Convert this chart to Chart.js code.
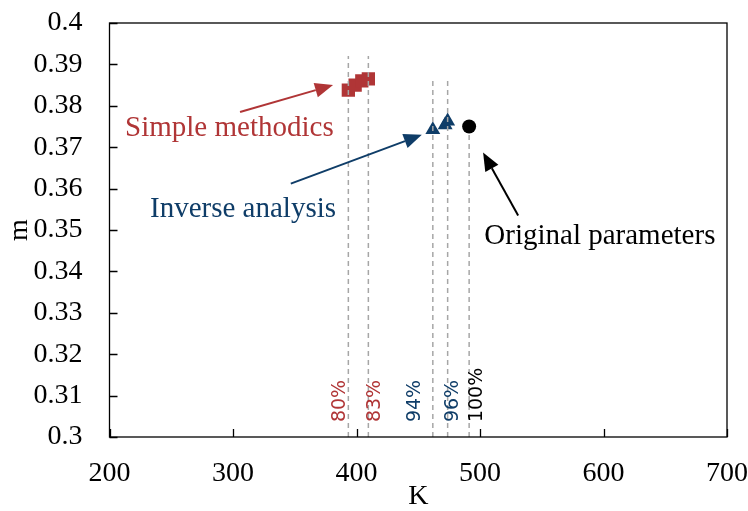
<!DOCTYPE html>
<html>
<head>
<meta charset="utf-8">
<script src="https://cdn.jsdelivr.net/npm/chart.js@4/dist/chart.umd.min.js"></script>
<style>
    html, body { margin: 0; padding: 0; background: #fff; }
    #wrap { width: 748px; height: 511px; }
</style>
</head>
<body>
<div id="wrap"><canvas id="scatter_chart"></canvas></div>
<script>
// values
const simpleK = [393.4, 398.9, 404.3, 409.6];
const simpleM = [0.3838, 0.3850, 0.3860, 0.3865];
const inverseK = [461.8, 471.8, 473.8];
const inverseM = [0.3742, 0.3754, 0.3763];
const originalK = [491.2];
const originalM = [0.375];

// vertical guides and their percentage labels
const guideK = [393.4, 409.6, 461.8, 473.8, 491.2];
const guideTop = [0.392, 0.392, 0.3867, 0.3867, 0.373];
const guideLabels = ['80%', '83%', '94%', '96%', '100%'];
const guideLabelK = [386.8, 415.2, 447.2, 478.4, 497.6];

const xTicks = [200, 300, 400, 500, 600, 700];
const yTicks = [0.3, 0.31, 0.32, 0.33, 0.34, 0.35, 0.36, 0.37, 0.38, 0.39, 0.4];

const red = '#B03536';
const blue = '#0F3D68';
const black = '#000000';
const guideColors = [red, red, blue, blue, black];

// text callouts, in data units (text anchor, arrow tail, arrow tip)
const callouts = [
    { text: 'Simple methodics', color: red, at: [212.6, 0.3728], from: [305.7, 0.3785], to: [381.0, 0.3850] },
    { text: 'Inverse analysis', color: blue, at: [232.8, 0.3532], from: [346.8, 0.3612], to: [452.9, 0.3730] },
    { text: 'Original parameters', color: black, at: [503.5, 0.3467], from: [530.9, 0.3535], to: [502.5, 0.3687] }
];

const toPoints = (xs, ys) => xs.map((x, i) => ({ x: x, y: ys[i] }));

const guideSets = guideK.map((k, i) => ({
    type: 'line',
    data: [{ x: k, y: 0.3 }, { x: k, y: guideTop[i] }],
    borderColor: '#A6A6A6',
    borderWidth: 1.5,
    borderDash: [5, 4],
    pointRadius: 0,
    order: 0
}));

// frame, inward ticks, callouts and rotated percent labels
const decorPlugin = {
    id: 'decor',
    afterDatasetsDraw(chart) {
        const ctx = chart.ctx;
        const area = chart.chartArea;
        const xs = chart.scales.x;
        const ys = chart.scales.y;
        ctx.save();
        ctx.strokeStyle = '#000';
        ctx.lineWidth = 1.3;
        ctx.strokeRect(area.left, area.top, area.right - area.left, area.bottom - area.top);
        ctx.beginPath();
        for (const v of xTicks) {
            const px = Math.round(xs.getPixelForValue(v)) + 0.5;
            ctx.moveTo(px, area.bottom);
            ctx.lineTo(px, area.bottom - 8);
        }
        for (const v of yTicks) {
            const py = Math.round(ys.getPixelForValue(v)) + 0.5;
            ctx.moveTo(area.left, py);
            ctx.lineTo(area.left + 8, py);
        }
        ctx.stroke();

        // percent labels
        ctx.font = '19px "DejaVu Sans"';
        ctx.textAlign = 'left';
        ctx.textBaseline = 'middle';
        guideLabels.forEach((lab, i) => {
            ctx.save();
            ctx.translate(xs.getPixelForValue(guideLabelK[i]), ys.getPixelForValue(0.3036));
            ctx.rotate(-Math.PI / 2);
            ctx.fillStyle = guideColors[i];
            ctx.fillText(lab, 0, 0);
            ctx.restore();
        });

        // callouts
        ctx.font = '29px "Liberation Serif"';
        ctx.textBaseline = 'alphabetic';
        for (const c of callouts) {
            ctx.fillStyle = c.color;
            ctx.strokeStyle = c.color;
            ctx.fillText(c.text, xs.getPixelForValue(c.at[0]), ys.getPixelForValue(c.at[1]));
            const x1 = xs.getPixelForValue(c.from[0]);
            const y1 = ys.getPixelForValue(c.from[1]);
            const x2 = xs.getPixelForValue(c.to[0]);
            const y2 = ys.getPixelForValue(c.to[1]);
            const ang = Math.atan2(y2 - y1, x2 - x1);
            const headLen = 18;
            const headW = 7.5;
            const bx = x2 - headLen * Math.cos(ang);
            const by = y2 - headLen * Math.sin(ang);
            ctx.lineWidth = 2;
            ctx.beginPath();
            ctx.moveTo(x1, y1);
            ctx.lineTo(bx, by);
            ctx.stroke();
            ctx.beginPath();
            ctx.moveTo(x2, y2);
            ctx.lineTo(bx - headW * Math.sin(ang), by + headW * Math.cos(ang));
            ctx.lineTo(bx + headW * Math.sin(ang), by - headW * Math.cos(ang));
            ctx.closePath();
            ctx.fill();
        }
        ctx.restore();
    }
};

const ctx = document.querySelector('#scatter_chart');
const chart = new Chart(ctx, {
    type: 'scatter',
    data: {
        datasets: [
            ...guideSets,
            {
                label: 'Simple methodics',
                data: toPoints(simpleK, simpleM),
                pointStyle: 'rect',
                pointRadius: 9.4,
                backgroundColor: red,
                borderColor: red,
                borderWidth: 0,
                order: 1
            },
            {
                label: 'Inverse analysis',
                data: toPoints(inverseK, inverseM),
                pointStyle: 'triangle',
                pointRadius: 8.6,
                backgroundColor: blue,
                borderColor: blue,
                borderWidth: 0,
                order: 1
            },
            {
                label: 'Original parameters',
                data: toPoints(originalK, originalM),
                pointStyle: 'circle',
                pointRadius: 7,
                backgroundColor: black,
                borderColor: black,
                borderWidth: 0,
                order: 1
            }
        ]
    },
    options: {
        responsive: true,
        maintainAspectRatio: false,
        animation: false,
        layout: { padding: { left: 0, right: 21, top: 23, bottom: 0 } },
        plugins: {
            legend: { display: false },
            tooltip: { enabled: false }
        },
        scales: {
            x: {
                type: 'linear',
                min: 200,
                max: 700,
                afterFit: (scale) => {
                    scale.height = 74;
                    scale.paddingLeft = 0;
                    scale.paddingRight = 0;
                },
                grid: { display: false, drawTicks: false },
                border: { display: false },
                ticks: {
                    stepSize: 100,
                    padding: 20,
                    color: '#000',
                    font: { family: 'Liberation Serif', size: 28 }
                },
                title: {
                    display: true,
                    text: 'K',
                    color: '#000',
                    padding: { top: 0, bottom: 0 },
                    font: { family: 'Liberation Serif', size: 28, lineHeight: 1 }
                }
            },
            y: {
                type: 'linear',
                min: 0.3,
                max: 0.4,
                afterFit: (scale) => {
                    scale.width = 109.5;
                    scale.paddingTop = 0;
                    scale.paddingBottom = 0;
                },
                grid: { display: false, drawTicks: false },
                border: { display: false },
                ticks: {
                    stepSize: 0.01,
                    padding: 27,
                    color: '#000',
                    font: { family: 'Liberation Serif', size: 28 },
                    callback: (v) => String(+v.toFixed(2))
                },
                title: {
                    display: true,
                    text: 'm',
                    color: '#000',
                    padding: { top: 6, bottom: 0 },
                    font: { family: 'Liberation Serif', size: 28, lineHeight: 1 }
                }
            }
        }
    },
    plugins: [decorPlugin]
});
</script>
</body>
</html>
